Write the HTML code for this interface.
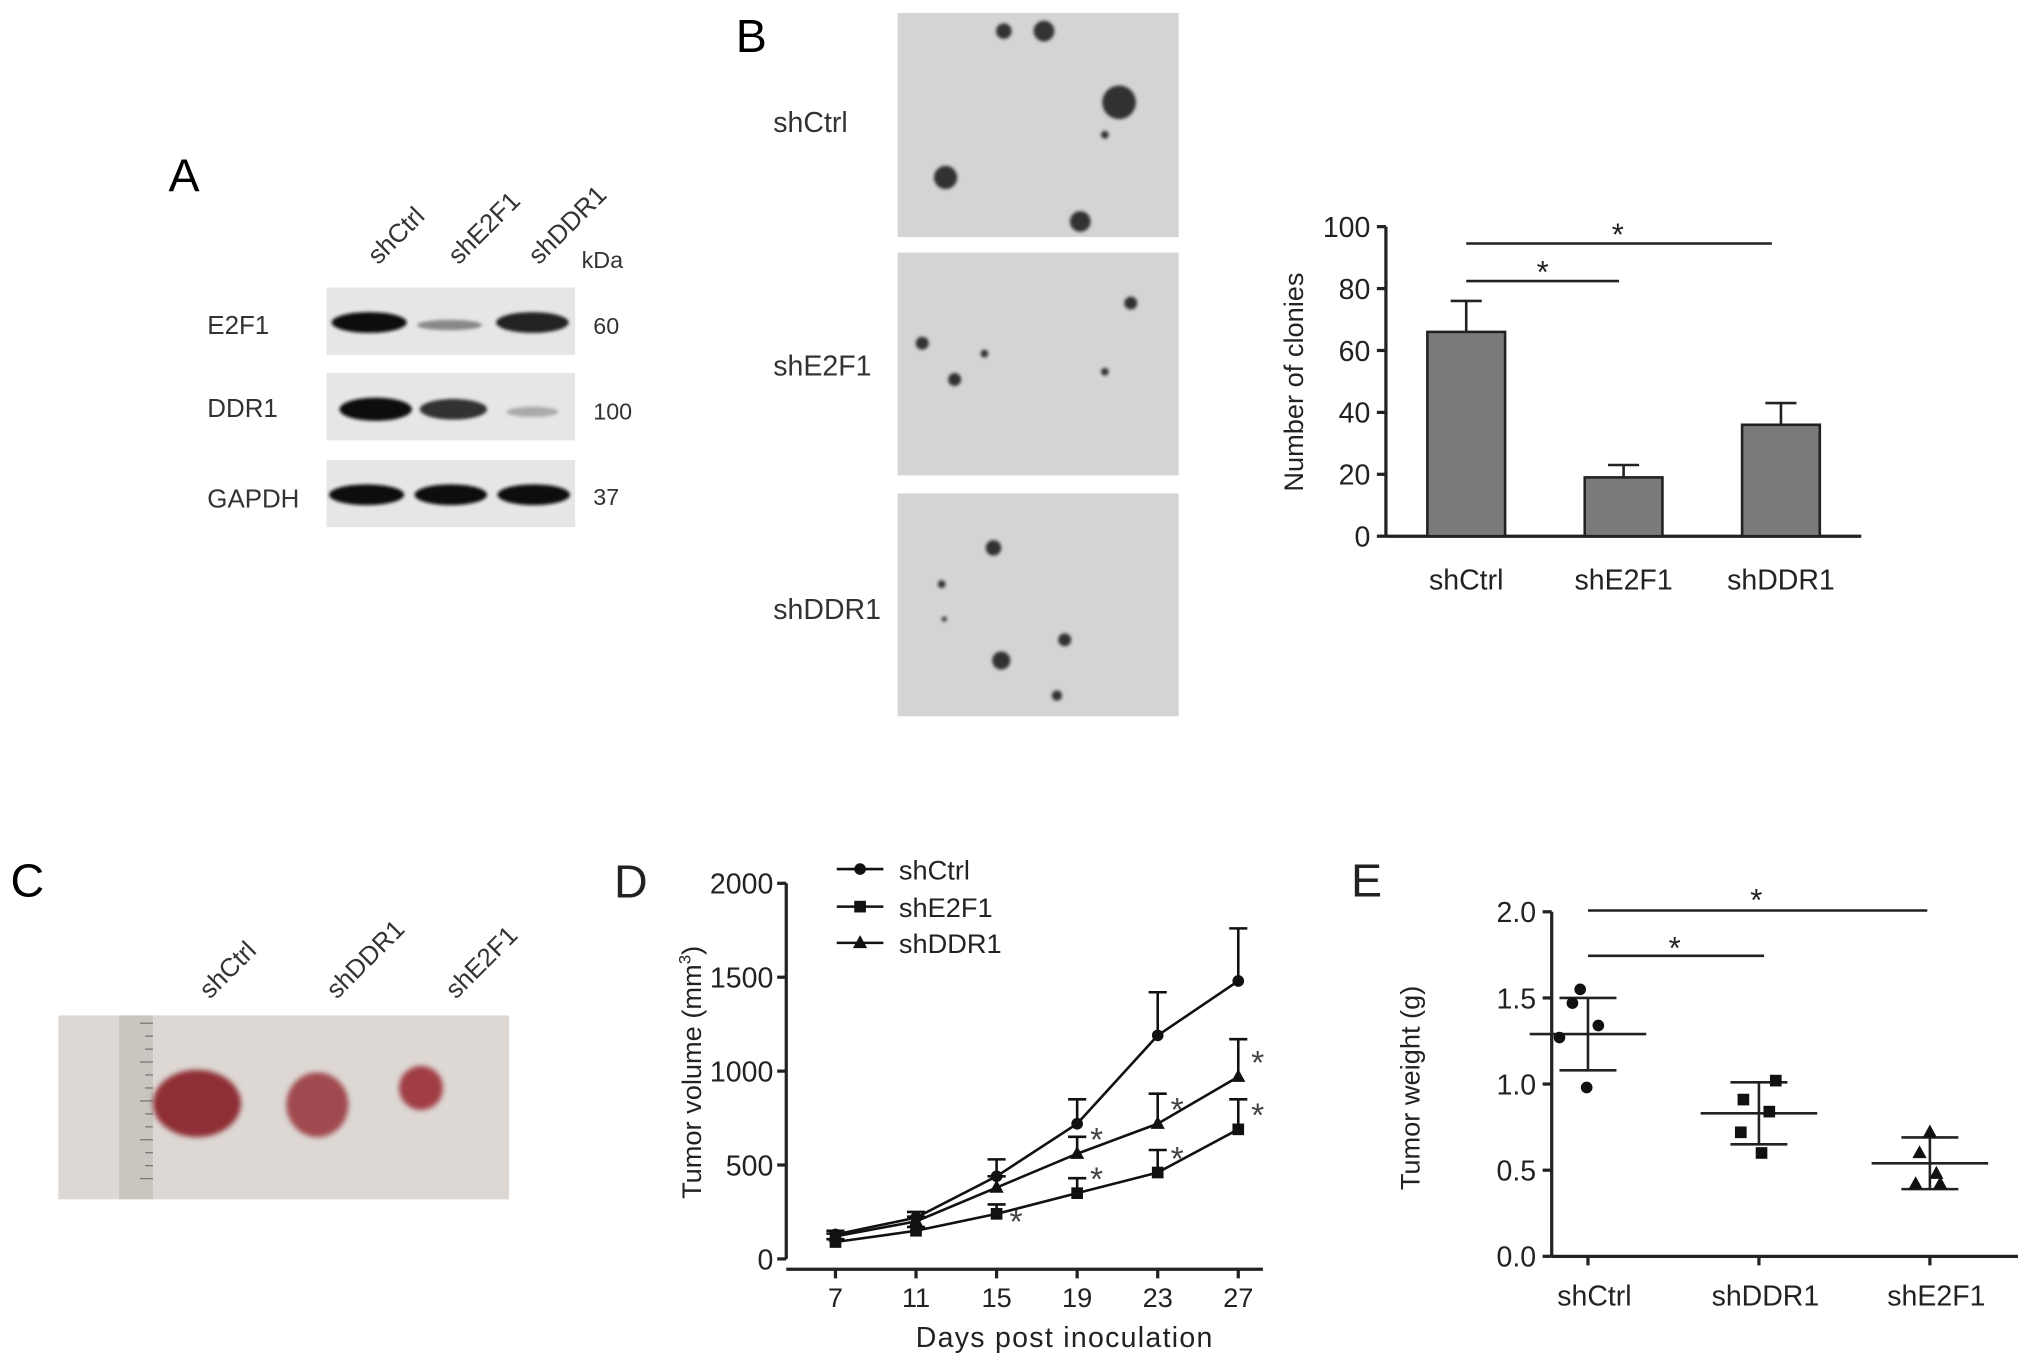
<!DOCTYPE html>
<html><head><meta charset="utf-8"><style>
html,body{margin:0;padding:0;background:#fff;}
svg{display:block;font-family:"Liberation Sans",Arial,sans-serif;}
</style></head><body>
<svg id="fig" width="2031" height="1369" viewBox="0 0 1568 1057" xmlns="http://www.w3.org/2000/svg">
<defs>
<filter id="blur1"><feGaussianBlur stdDeviation="2"/></filter>
<filter id="blur2"><feGaussianBlur stdDeviation="1.2"/></filter>
</defs>
<!-- Panel A -->
<g>
<text x="130" y="148" font-size="36">A</text>
<text transform="translate(292,205) rotate(-45)" font-size="20" fill="#333">shCtrl</text>
<text transform="translate(354,205) rotate(-45)" font-size="20" fill="#333">shE2F1</text>
<text transform="translate(416,205) rotate(-45)" font-size="20" fill="#333">shDDR1</text>
<text x="449" y="207" font-size="18" fill="#333">kDa</text>
<text x="160" y="258" font-size="20" fill="#333">E2F1</text>
<text x="160" y="322" font-size="20" fill="#333">DDR1</text>
<text x="160" y="392" font-size="20" fill="#333">GAPDH</text>
<text x="458" y="258" font-size="18" fill="#333">60</text>
<text x="458" y="324" font-size="18" fill="#333">100</text>
<text x="458" y="390" font-size="18" fill="#333">37</text>
<rect x="252" y="222" width="192" height="52" fill="#e6e6e6"/>
<rect x="252" y="288" width="192" height="52" fill="#e6e6e6"/>
<rect x="252" y="355" width="192" height="52" fill="#e6e6e6"/>
<g filter="url(#blur2)">
<ellipse cx="285" cy="249" rx="29" ry="8" fill="#111"/>
<ellipse cx="347" cy="251" rx="25" ry="4" fill="#888"/>
<ellipse cx="411" cy="249" rx="28" ry="8" fill="#222"/>
<ellipse cx="290" cy="316" rx="28" ry="9" fill="#111"/>
<ellipse cx="350" cy="316" rx="26" ry="8" fill="#333"/>
<ellipse cx="411" cy="318" rx="20" ry="4" fill="#aaa"/>
<ellipse cx="283" cy="382" rx="29" ry="8" fill="#111"/>
<ellipse cx="348" cy="382" rx="28" ry="8" fill="#111"/>
<ellipse cx="412" cy="382" rx="28" ry="8" fill="#111"/>
</g>
</g>
<!-- Panel B images -->
<g>
<text x="568" y="40" font-size="36">B</text>
<rect x="693" y="10" width="217" height="173" fill="#d4d4d4"/>
<rect x="693" y="195" width="217" height="172" fill="#d4d4d4"/>
<rect x="693" y="381" width="217" height="172" fill="#d4d4d4"/>
<g fill="#333" filter="url(#blur2)">
<circle cx="775" cy="24" r="6"/><circle cx="806" cy="24" r="8"/><circle cx="864" cy="79" r="13"/>
<circle cx="730" cy="137" r="9"/><circle cx="834" cy="171" r="8"/><circle cx="853" cy="104" r="3"/>
<circle cx="873" cy="234" r="5"/><circle cx="712" cy="265" r="5"/><circle cx="760" cy="273" r="3"/>
<circle cx="737" cy="293" r="5"/><circle cx="853" cy="287" r="3"/>
<circle cx="767" cy="423" r="6"/><circle cx="727" cy="451" r="3"/><circle cx="822" cy="494" r="5"/>
<circle cx="773" cy="510" r="7"/><circle cx="816" cy="537" r="4"/><circle cx="729" cy="478" r="2"/>
</g>
<text x="597" y="102" font-size="22" fill="#333">shCtrl</text>
<text x="597" y="290" font-size="22" fill="#333">shE2F1</text>
<text x="597" y="478" font-size="22" fill="#333">shDDR1</text>
</g>
<g id="chartB"></g>
<!-- Panel C -->
<g>
<text x="8" y="692" font-size="36">C</text>
<text transform="translate(162,772) rotate(-45)" font-size="20" fill="#333">shCtrl</text>
<text transform="translate(260,772) rotate(-45)" font-size="20" fill="#333">shDDR1</text>
<text transform="translate(352,772) rotate(-45)" font-size="20" fill="#333">shE2F1</text>
<rect x="45" y="784" width="348" height="142" fill="#ddd8d3"/>
<rect x="92" y="784" width="26" height="142" fill="#c9c6c0"/>
<g stroke="#777" stroke-width="1">
<line x1="108" y1="790" x2="118" y2="790"/><line x1="112" y1="800" x2="118" y2="800"/><line x1="112" y1="810" x2="118" y2="810"/>
<line x1="108" y1="820" x2="118" y2="820"/><line x1="112" y1="830" x2="118" y2="830"/><line x1="112" y1="840" x2="118" y2="840"/>
<line x1="108" y1="850" x2="118" y2="850"/><line x1="112" y1="860" x2="118" y2="860"/><line x1="112" y1="870" x2="118" y2="870"/>
<line x1="108" y1="880" x2="118" y2="880"/><line x1="112" y1="890" x2="118" y2="890"/><line x1="112" y1="900" x2="118" y2="900"/>
<line x1="108" y1="910" x2="118" y2="910"/>
</g>
<g filter="url(#blur1)">
<ellipse cx="152" cy="852" rx="34" ry="26" fill="#8e2e35"/>
<ellipse cx="245" cy="853" rx="24" ry="25" fill="#a04a50"/>
<ellipse cx="325" cy="840" rx="17" ry="17" fill="#a03c44"/>
</g>
</g>
<g id="chartD"></g>
<g id="chartE"></g>
</svg>
<script>
const NS="http://www.w3.org/2000/svg";
function mk(p,t,a){const e=document.createElementNS(NS,t);for(const k in a)e.setAttribute(k,a[k]);p.appendChild(e);return e;}
function txt(p,x,y,s,size,anchor,extra){const e=mk(p,'text',Object.assign({x:x,y:y,'font-size':size,'text-anchor':anchor||'start',fill:'#222'},extra||{}));e.textContent=s;return e;}

// ---- Chart B data ----
const bCats=["shCtrl","shE2F1","shDDR1"];
const bVals=[66,19,36];
const bErr=[10,4,7];
const bTicks=[0,20,40,60,80,100];
(function(){
const g=document.getElementById('chartB');
const x0=1070,x1=1437,yTop=175,yBot=414;
const y=v=>yBot-(v/100)*(yBot-yTop);
const xc=i=>1132+i*121.5;
mk(g,'line',{x1:x0,y1:yTop,x2:x0,y2:yBot,stroke:'#222','stroke-width':2.5});
mk(g,'line',{x1:x0,y1:yBot,x2:x1,y2:yBot,stroke:'#222','stroke-width':2.5});
bTicks.forEach(t=>{mk(g,'line',{x1:x0-7,y1:y(t),x2:x0,y2:y(t),stroke:'#222','stroke-width':2.5});
const tx=txt(g,x0-12,y(t)+8,String(t),22,'end');

});
const yt=txt(g,0,0,"Number of clonies",21,'middle',{transform:'translate(1006,295) rotate(-90)'});


bCats.forEach((c,i)=>{
const cx=xc(i),w=60;
mk(g,'line',{x1:cx,y1:y(bVals[i]),x2:cx,y2:y(bVals[i]+bErr[i]),stroke:'#222','stroke-width':2});
mk(g,'line',{x1:cx-12,y1:y(bVals[i]+bErr[i]),x2:cx+12,y2:y(bVals[i]+bErr[i]),stroke:'#222','stroke-width':2});
const r=mk(g,'rect',{x:cx-w/2,y:y(bVals[i]),width:w,height:yBot-y(bVals[i]),fill:'#7a7a7a',stroke:'#222','stroke-width':2});


const t=txt(g,cx,455,c,22,'middle');


});
mk(g,'line',{x1:1132,y1:217,x2:1250,y2:217,stroke:'#222','stroke-width':2});
txt(g,1191,218,"*",24,'middle');
mk(g,'line',{x1:1132,y1:188,x2:1368,y2:188,stroke:'#222','stroke-width':2});
txt(g,1249,189,"*",24,'middle');
})();

// ---- Chart D data ----
const dDays=[7,11,15,19,23,27];
const dCtrl=[130,220,440,720,1190,1480];
const dCtrlErr=[20,30,90,130,230,280];
const dE2F1=[90,150,240,350,460,690];
const dE2F1Err=[15,20,50,80,120,160];
const dDDR1=[120,200,380,560,720,970];
const dDDR1Err=[15,25,60,90,160,200];
const dTicks=[0,500,1000,1500,2000];
(function(){
const g=document.getElementById('chartD');
const x0=607,yTop=682,yBot=972;
const x=d=>645+(d-7)*(956-645)/20;
const y=v=>yBot-(v/2000)*(yBot-yTop);
mk(g,'line',{x1:x0,y1:yTop,x2:x0,y2:yBot,stroke:'#222','stroke-width':2.5});
mk(g,'line',{x1:x0,y1:yBot+8,x2:975,y2:yBot+8,stroke:'#222','stroke-width':2.5});
dTicks.forEach(t=>{mk(g,'line',{x1:x0-7,y1:y(t),x2:x0,y2:y(t),stroke:'#222','stroke-width':2.5});
const tx=txt(g,x0-10,y(t)+8,String(t),22,'end');

});
dDays.forEach(d=>{mk(g,'line',{x1:x(d),y1:yBot+8,x2:x(d),y2:yBot+15,stroke:'#222','stroke-width':2.5});
const tx=txt(g,x(d),yBot+37,String(d),21,'middle');

});
const xt=txt(g,822,1040,"Days post inoculation",22,'middle',{'letter-spacing':'1'});


const yt=mk(g,'text',{transform:'translate(541,828) rotate(-90)','font-size':21,'text-anchor':'middle',fill:'#222'});
yt.innerHTML='Tumor volume (mm<tspan dy="-8" font-size="13">3</tspan><tspan dy="8">)</tspan>';


const dl=txt(g,474,693,"D",36,'start');


const series=[["shctrl",dCtrl,dCtrlErr,'circle'],["she2f1",dE2F1,dE2F1Err,'square'],["shddr1",dDDR1,dDDR1Err,'triangle']];
function marker(p,cx,cy,s){
 if(s==='circle')return mk(p,'circle',{cx:cx,cy:cy,r:4.5,fill:'#111'});
 if(s==='square')return mk(p,'rect',{x:cx-4.5,y:cy-4.5,width:9,height:9,fill:'#111'});
 return mk(p,'polygon',{points:`${cx},${cy-6} ${cx-5.5},${cy+4} ${cx+5.5},${cy+4}`,fill:'#111'});
}
series.forEach(([n,v,e,s])=>{
 const sg=mk(g,'g',{});
 
 
 dDays.forEach((d,i)=>{mk(sg,'line',{x1:x(d),y1:y(v[i]),x2:x(d),y2:y(v[i]+e[i]),stroke:'#111','stroke-width':2});
  mk(sg,'line',{x1:x(d)-7,y1:y(v[i]+e[i]),x2:x(d)+7,y2:y(v[i]+e[i]),stroke:'#111','stroke-width':2});});
 mk(sg,'polyline',{points:dDays.map((d,i)=>x(d)+','+y(v[i])).join(' '),fill:'none',stroke:'#111','stroke-width':2});
 dDays.forEach((d,i)=>marker(sg,x(d),y(v[i]),s));
});
[[15,dE2F1,0],[19,dE2F1,3],[19,dDDR1,3],[23,dE2F1,4],[23,dDDR1,4],[27,dE2F1,5],[27,dDDR1,5]].forEach(([d,arr,i])=>{
 let yy=y(arr[i]); if(d===15)yy=y(220); 
 txt(g,x(d)+15,yy+(d===15?12:-2),"*",26,'middle',{fill:'#444'});
});
const leg=[["shCtrl",'circle',671],["shE2F1",'square',700],["shDDR1",'triangle',728]];
leg.forEach(([n,s,yy])=>{
 const lg=mk(g,'g',{});
 
 
 mk(lg,'line',{x1:646,y1:yy,x2:682,y2:yy,stroke:'#111','stroke-width':2});
 marker(lg,664,yy,s);
 txt(lg,694,yy+8,n,21,'start');
});
})();

// ---- Chart E data ----
const eCats=["shCtrl","shDDR1","shE2F1"];
const ePts=[[1.55,1.47,1.34,1.27,0.98],[1.02,0.91,0.84,0.72,0.60],[0.72,0.60,0.48,0.42,0.42]];
const eMean=[1.29,0.83,0.54];
const eSd=[0.21,0.18,0.15];
const eTicks=[0.0,0.5,1.0,1.5,2.0];
(function(){
const g=document.getElementById('chartE');
const x0=1198,x1=1558,yTop=704,yBot=970;
const y=v=>yBot-(v/2)*(yBot-yTop);
const xc=i=>1226+i*132;
txt(g,1043,692,"E",36,'start');
mk(g,'line',{x1:x0,y1:yTop,x2:x0,y2:yBot,stroke:'#222','stroke-width':2.5});
mk(g,'line',{x1:x0,y1:yBot,x2:x1,y2:yBot,stroke:'#222','stroke-width':2.5});
eTicks.forEach(t=>{mk(g,'line',{x1:x0-7,y1:y(t),x2:x0,y2:y(t),stroke:'#222','stroke-width':2.5});
const tx=txt(g,x0-12,y(t)+8,t.toFixed(1),22,'end');

});
const yt=txt(g,0,0,"Tumor weight (g)",21,'middle',{transform:'translate(1096,840) rotate(-90)'});


const offs=[[-6,-12,8,-22,-1],[13,-12,8,-14,2],[0,-8,5,-11,8]];
eCats.forEach((c,i)=>{
 const cx=xc(i);
 mk(g,'line',{x1:cx,y1:yBot,x2:cx,y2:yBot+7,stroke:'#222','stroke-width':2.5});
 const t=txt(g,cx+5,1008,c,22,'middle');
 
 
 const sg=mk(g,'g',{});
 
 
 mk(sg,'line',{x1:cx-45,y1:y(eMean[i]),x2:cx+45,y2:y(eMean[i]),stroke:'#222','stroke-width':2});
 mk(sg,'line',{x1:cx,y1:y(eMean[i]-eSd[i]),x2:cx,y2:y(eMean[i]+eSd[i]),stroke:'#222','stroke-width':2});
 [eMean[i]-eSd[i],eMean[i]+eSd[i]].forEach(v=>mk(sg,'line',{x1:cx-22,y1:y(v),x2:cx+22,y2:y(v),stroke:'#222','stroke-width':2}));
 ePts[i].forEach((v,j)=>{const px=cx+offs[i][j],py=y(v);
  if(i===0)mk(sg,'circle',{cx:px,cy:py,r:4.5,fill:'#111'});
  else if(i===1)mk(sg,'rect',{x:px-4.5,y:py-4.5,width:9,height:9,fill:'#111'});
  else mk(sg,'polygon',{points:`${px},${py-6} ${px-5.5},${py+4} ${px+5.5},${py+4}`,fill:'#111'});});
});
mk(g,'line',{x1:1226,y1:738,x2:1362,y2:738,stroke:'#222','stroke-width':2});
txt(g,1293,740,"*",24,'middle');
mk(g,'line',{x1:1226,y1:703,x2:1488,y2:703,stroke:'#222','stroke-width':2});
txt(g,1356,703,"*",24,'middle');
})();
</script>
</body></html>
